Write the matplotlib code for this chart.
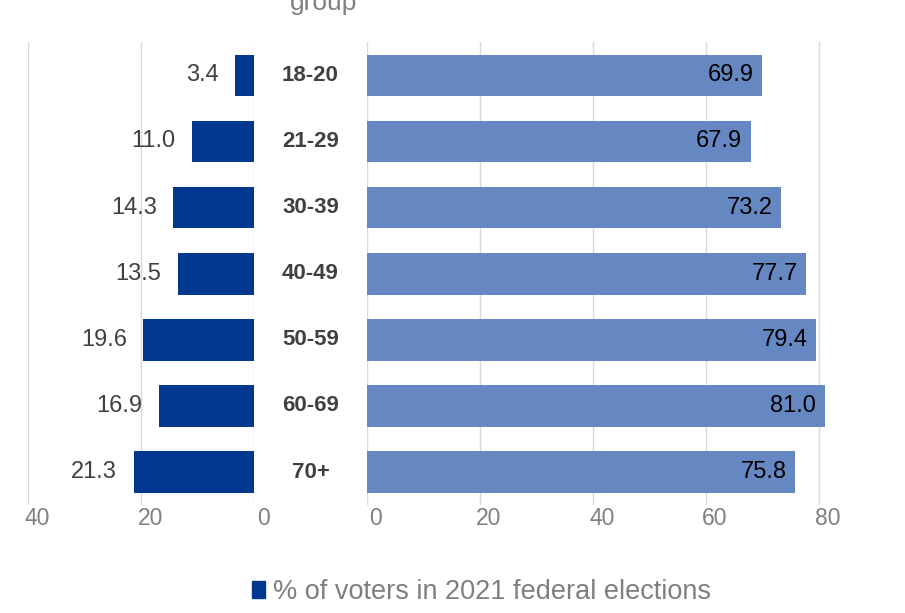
import numpy as np
import matplotlib
import matplotlib.pyplot as plt
from matplotlib.patches import Patch
from matplotlib.transforms import ScaledTranslation, blended_transform_factory

age_groups = ['18-20', '21-29', '30-39', '40-49', '50-59', '60-69', '70+']
share_of_voters = [3.4, 11.0, 14.3, 13.5, 19.6, 16.9, 21.3]
turnout = [69.9, 67.9, 73.2, 77.7, 79.4, 81.0, 75.8]
left_ticks = [0, 20, 40]
right_ticks = [0, 20, 40, 60, 80]


def main():
    matplotlib.rc('font', family='Liberation Sans', size=14)
    dark = '#00378F'
    light = '#6688C2'
    grey = '#808080'

    fig = plt.figure(figsize=(9.05, 6.13), dpi=100)
    ax_l = fig.add_axes([0.031, 0.176, 0.250, 0.755])
    ax_r = fig.add_axes([0.4055, 0.176, 0.512, 0.755])

    y = np.arange(len(age_groups))
    ax_l.barh(y, share_of_voters, height=0.63, color=dark, zorder=2)
    ax_r.barh(y, turnout, height=0.63, color=light, zorder=2)

    ax_l.set_xlim(40, 0)
    ax_r.set_xlim(0, 82)
    for ax in (ax_l, ax_r):
        ax.set_ylim(len(age_groups) - 0.5, -0.5)
        ax.set_yticks([])
        for s in ax.spines.values():
            s.set_visible(False)
        ax.grid(axis='x', color='#D9D9D9', linewidth=1, zorder=0)
        ax.tick_params(axis='x', length=0, colors=grey, labelsize=16.5, pad=1)
    ax_l.set_xticks(left_ticks)
    ax_r.set_xticks(right_ticks)
    for ax in (ax_l, ax_r):
        for lab in ax.get_xticklabels():
            lab.set_transform(lab.get_transform() + ScaledTranslation(0.09, 0, fig.dpi_scale_trans))

    mid = blended_transform_factory(fig.transFigure, ax_r.transData)
    for i, v in enumerate(share_of_voters):
        ax_l.annotate(f'{v:.1f}', (v, i), xytext=(-12, 0), textcoords='offset points',
                      ha='right', va='center', color='#404040', fontsize=17)
    for i, v in enumerate(turnout):
        ax_r.annotate(f'{v:.1f}', (v, i), xytext=(-6, 0), textcoords='offset points',
                      ha='right', va='center', color='black', fontsize=17)
        fig.text(0.343, i, age_groups[i], transform=mid,
                 ha='center', va='center', fontweight='bold', fontsize=16, color='#404040')

    fig.text(0.357, 0.995, 'group', ha='center', va='center', color=grey, fontsize=19)

    fig.legend(handles=[Patch(color=dark)], labels=['% of voters in 2021 federal elections'],
               loc='center', bbox_to_anchor=(0.532, 0.034), frameon=False, fontsize=19.5,
               handlelength=0.5, handleheight=0.6, handletextpad=0.3, labelcolor='#7F7F7F')

    fig.savefig('out.png', dpi=100)
    plt.close(fig)


if __name__ == '__main__':
    main()
